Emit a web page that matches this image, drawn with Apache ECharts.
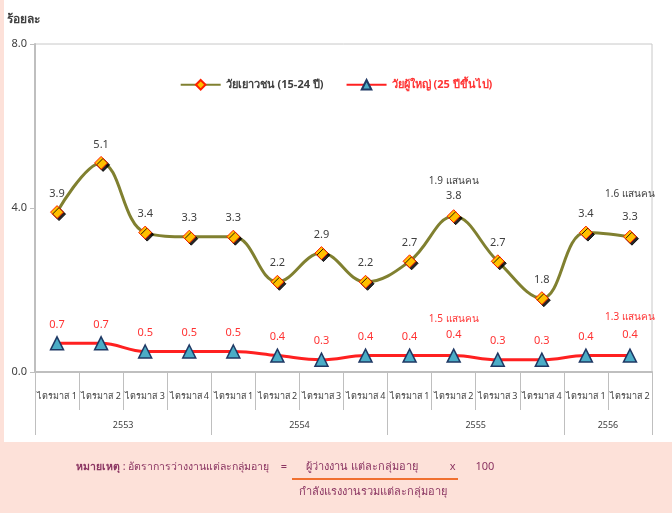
<!DOCTYPE html>
<html>
<head>
<meta charset="utf-8">
<script src="https://cdn.jsdelivr.net/npm/echarts@6/dist/echarts.min.js"></script>
<style>
  html, body { margin: 0; padding: 0; background: #FDE1D9; }
  #chart { width: 672px; height: 513px; }
</style>
</head>
<body>
<div id="chart"></div>
<script>
  // ข้อมูล
  var quarters = ['ไตรมาส 1', 'ไตรมาส 2', 'ไตรมาส 3', 'ไตรมาส 4', 'ไตรมาส 1', 'ไตรมาส 2', 'ไตรมาส 3', 'ไตรมาส 4',
    'ไตรมาส 1', 'ไตรมาส 2', 'ไตรมาส 3', 'ไตรมาส 4', 'ไตรมาส 1', 'ไตรมาส 2']
  var years = ['2553', '2554', '2555', '2556']
  var yearSpans = [4, 4, 4, 2]
  var youth = [3.9, 5.1, 3.4, 3.3, 3.3, 2.2, 2.9, 2.2, 2.7, 3.8, 2.7, 1.8, 3.4, 3.3]
  var adult = [0.7, 0.7, 0.5, 0.5, 0.5, 0.4, 0.3, 0.4, 0.4, 0.4, 0.3, 0.3, 0.4, 0.4]
  var youthNotes = ['', '', '', '', '', '', '', '', '', '1.9 แสนคน', '', '', '', '1.6 แสนคน']
  var adultNotes = ['', '', '', '', '', '', '', '', '', '1.5 แสนคน', '', '', '', '1.3 แสนคน']
  var yTicks = [0, 4, 8]

  var font = 'Tahoma, "Noto Sans", sans-serif'
  var noteColor = '#8B3562'

  // ขอบเขตปี และจุดกึ่งกลาง
  var bounds = [0]
  var mids = []
  yearSpans.forEach(function (s, i) {
    mids.push(bounds[i] + s / 2)
    bounds.push(bounds[i] + s)
  })

  function withNotes (values, notes, gapStyle) {
    return values.map(function (v, i) {
      if (!notes[i]) return v
      return {
        value: v,
        label: {
          formatter: '{' + (i === 13 ? gapStyle[1] : gapStyle[0]) + '|' + notes[i] + '}\n{v|' + v.toFixed(1) + '}'
        }
      }
    })
  }

  var chart = echarts.init(document.getElementById('chart'))
  chart.setOption({
    animation: false,
    textStyle: {fontFamily: font},
    graphic: [
      {type: 'rect', shape: {x: 4, y: 0, width: 668, height: 442}, style: {fill: '#fff'}, z: -10},
      {type: 'text', x: 76, y: 467, style: {text: '{b|หมายเหตุ} : อัตราการว่างงานแต่ละกลุ่มอายุ', align: 'left', verticalAlign: 'middle', font: '10.5px ' + font, fill: noteColor,
        rich: {b: {fontWeight: 'bold', fontSize: 10.5, fill: noteColor}}}},
      {type: 'text', x: 284, y: 467, style: {text: '=', align: 'center', verticalAlign: 'middle', font: '11px ' + font, fill: noteColor}},
      {type: 'text', x: 362, y: 467, style: {text: 'ผู้ว่างงาน แต่ละกลุ่มอายุ', align: 'center', verticalAlign: 'middle', font: '11px ' + font, fill: noteColor}},
      {type: 'text', x: 472, y: 467, style: {text: 'x       100', align: 'center', verticalAlign: 'middle', font: '11px ' + font, fill: noteColor}},
      {type: 'line', shape: {x1: 292, y1: 479, x2: 458, y2: 479}, style: {stroke: '#F07030', lineWidth: 2}},
      {type: 'text', x: 373, y: 492, style: {text: 'กำลังแรงงานรวมแต่ละกลุ่มอายุ', align: 'center', verticalAlign: 'middle', font: '11px ' + font, fill: noteColor}}
    ],
    legend: {
      top: 74,
      left: 'center',
      itemWidth: 40,
      itemHeight: 12,
      itemGap: 22,
      data: [
        {name: 'วัยเยาวชน (15-24 ปี)', textStyle: {color: '#3F3F3F', fontSize: 11, fontWeight: 'bold'}},
        {name: 'วัยผู้ใหญ่ (25 ปีขึ้นไป)', textStyle: {color: '#FF3333', fontSize: 11, fontWeight: 'bold'}}
      ]
    },
    grid: {
      left: 35,
      right: 20,
      top: 44,
      bottom: 141,
      show: true,
      borderColor: '#C8C8C8',
      borderWidth: 1
    },
    xAxis: [{
      type: 'category',
      data: quarters,
      boundaryGap: true,
      axisLine: {lineStyle: {color: '#BFBFBF', width: 2}},
      axisTick: {show: true, interval: 0, length: 38, lineStyle: {color: '#BFBFBF', width: 1}},
      axisLabel: {interval: 0, margin: 20, fontSize: 9, color: '#404040'}
    }, {
      type: 'value',
      position: 'bottom',
      offset: 38,
      min: 0,
      max: bounds[bounds.length - 1],
      splitLine: {show: false},
      axisLine: {show: false},
      axisTick: {show: true, length: 25, customValues: bounds, lineStyle: {color: '#BFBFBF', width: 1}},
      axisLabel: {
        customValues: mids,
        margin: 11,
        fontSize: 9,
        color: '#404040',
        formatter: function (v) { return years[mids.indexOf(v)] }
      }
    }],
    yAxis: {
      type: 'value',
      name: 'ร้อยละ',
      nameLocation: 'end',
      nameGap: 18,
      nameTextStyle: {align: 'left', padding: [0, 0, 0, -28], color: '#404040', fontSize: 12, fontWeight: 'bold'},
      min: yTicks[0],
      max: yTicks[yTicks.length - 1],
      interval: yTicks[1] - yTicks[0],
      splitLine: {show: false},
      axisLine: {show: true, lineStyle: {color: '#BFBFBF', width: 2}},
      axisTick: {show: true, length: 5, lineStyle: {color: '#BFBFBF'}},
      axisLabel: {margin: 8, color: '#404040', fontSize: 11, formatter: function (v) { return v.toFixed(1) }}
    },
    series: [{
      name: 'วัยเยาวชน (15-24 ปี)',
      type: 'line',
      smooth: 0.4,
      data: withNotes(youth, youthNotes, ['n', 'm']),
      symbol: 'diamond',
      symbolSize: 13,
      lineStyle: {color: '#808030', width: 3},
      itemStyle: {
        color: '#FFC000',
        borderColor: '#FF2000',
        borderWidth: 1,
        shadowColor: 'rgba(0,0,0,0.85)',
        shadowOffsetX: 2,
        shadowOffsetY: 2
      },
      label: {
        show: true,
        position: 'top',
        distance: 6,
        color: '#404040',
        fontSize: 11,
        formatter: function (p) { return p.value.toFixed(1) },
        rich: {
          n: {color: '#404040', fontSize: 10, lineHeight: 17},
          m: {color: '#404040', fontSize: 10, lineHeight: 17, padding: [0, 0, 14, 0]},
          v: {color: '#404040', fontSize: 11, lineHeight: 14}
        }
      },
      z: 3
    }, {
      name: 'วัยผู้ใหญ่ (25 ปีขึ้นไป)',
      type: 'line',
      smooth: 0.4,
      data: withNotes(adult, adultNotes, ['n', 'm']),
      symbol: 'triangle',
      symbolSize: 13,
      lineStyle: {color: '#FF2020', width: 3},
      itemStyle: {
        color: '#4BACC6',
        borderColor: '#1F3864',
        borderWidth: 1.5
      },
      label: {
        show: true,
        position: 'top',
        distance: 6,
        color: '#FF3333',
        fontSize: 11,
        formatter: function (p) { return p.value.toFixed(1) },
        rich: {
          n: {color: '#FF3333', fontSize: 10, lineHeight: 19},
          m: {color: '#FF3333', fontSize: 10, lineHeight: 19, padding: [0, 0, 4, 0]},
          v: {color: '#FF3333', fontSize: 11, lineHeight: 14}
        }
      },
      z: 2
    }]
  })
</script>
</body>
</html>
